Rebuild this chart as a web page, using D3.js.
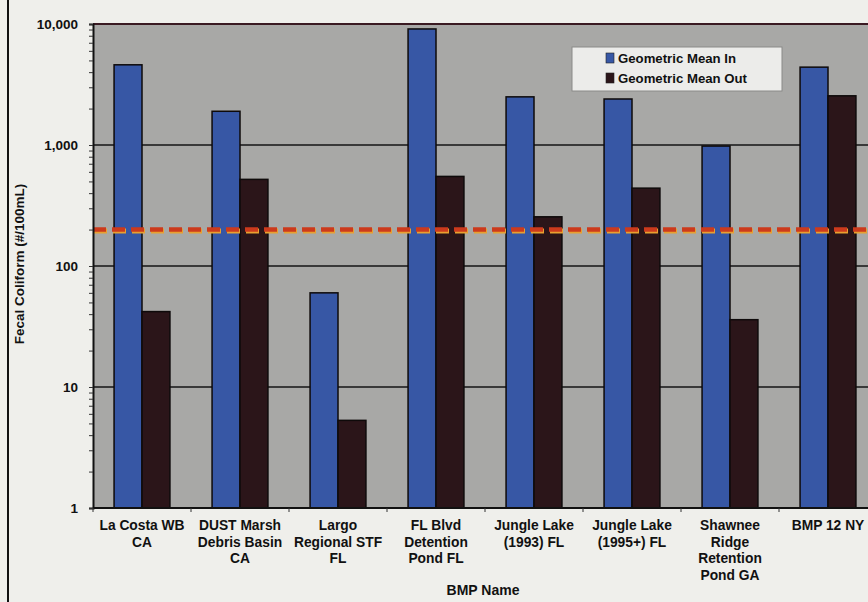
<!DOCTYPE html>
<html>
<head>
<meta charset="utf-8">
<script src="https://cdn.jsdelivr.net/npm/d3@7/dist/d3.min.js"></script>
<style>
  html, body { margin: 0; padding: 0; background: #efefeb; }
  svg { display: block; }
  text { font-family: "Liberation Sans", Arial, sans-serif; font-weight: bold; fill: #111; }
</style>
</head>
<body>
<svg id="chart" width="868" height="602"></svg>
<script>
// BMP sites (multi-line labels) and fecal coliform geometric means (#/100mL)
const categories = [
  ["La Costa WB", "CA"],
  ["DUST Marsh", "Debris Basin", "CA"],
  ["Largo", "Regional STF", "FL"],
  ["FL Blvd", "Detention", "Pond FL"],
  ["Jungle Lake", "(1993) FL"],
  ["Jungle Lake", "(1995+) FL"],
  ["Shawnee", "Ridge", "Retention", "Pond GA"],
  ["BMP 12 NY"]
];
const meanIn  = [4600, 1900, 60, 9100, 2500, 2400, 980, 4400];
const meanOut = [42, 520, 5.3, 550, 255, 440, 36, 2550];
const seriesNames = ["Geometric Mean In", "Geometric Mean Out"];
const standardValue = 200;
const yTicks = [1, 10, 100, 1000, 10000];
const yTickLabels = ["1", "10", "100", "1,000", "10,000"];
const xTitle = "BMP Name";
const yTitle = "Fecal Coliform (#/100mL)";

const colors = { in: "#3757a5", out: "#2b1519" };

const svg = d3.select("#chart");
const margin = { left: 93, top: 24, bottom: 94 };
const plotRight = 877;
const plotBottom = 602 - margin.bottom;

const x = d3.scaleBand()
  .domain(d3.range(categories.length))
  .range([margin.left, plotRight])
  .paddingInner(0.43)
  .paddingOuter(0.215);
const xGroup = d3.scaleBand()
  .domain([0, 1])
  .range([0, x.bandwidth()]);
const y = d3.scaleLog()
  .domain([1, 10000])
  .range([plotBottom, margin.top]);

// page rule on the left edge
svg.append("line")
  .attr("x1", 8).attr("x2", 8).attr("y1", 0).attr("y2", 602)
  .attr("stroke", "#111").attr("stroke-width", 2);

// plot background
svg.append("rect")
  .attr("x", margin.left).attr("y", margin.top)
  .attr("width", plotRight - margin.left).attr("height", plotBottom - margin.top)
  .attr("fill", "#a8a8a6");

// decade gridlines
svg.append("g").selectAll("line")
  .data(yTicks.slice(1, -1))
  .join("line")
  .attr("x1", margin.left).attr("x2", plotRight)
  .attr("y1", d => y(d)).attr("y2", d => y(d))
  .attr("stroke", "#141414").attr("stroke-width", 1.6);

// top border
svg.append("line")
  .attr("x1", margin.left).attr("x2", plotRight)
  .attr("y1", margin.top).attr("y2", margin.top)
  .attr("stroke", "#3a1a22").attr("stroke-width", 2);

// bars
const groups = svg.append("g").selectAll("g")
  .data(categories.map((c, i) => ({ i, vals: [meanIn[i], meanOut[i]] })))
  .join("g")
  .attr("transform", d => `translate(${x(d.i)},0)`);
groups.selectAll("rect")
  .data(d => d.vals.map((v, k) => ({ v, k })))
  .join("rect")
  .attr("x", d => xGroup(d.k))
  .attr("width", xGroup.bandwidth())
  .attr("y", d => y(d.v))
  .attr("height", d => plotBottom - y(d.v))
  .attr("fill", d => d.k === 0 ? colors.in : colors.out)
  .attr("stroke", "#0e0a0a").attr("stroke-width", 1.5);

// standard line (dashed, with a warm shadow)
const yStd = y(standardValue);
svg.append("line")
  .attr("x1", margin.left).attr("x2", 868)
  .attr("y1", yStd + 1.5).attr("y2", yStd + 1.5)
  .attr("stroke", "#e8a030").attr("stroke-width", 5)
  .attr("stroke-dasharray", "13,6").attr("stroke-dashoffset", -1);
svg.append("line")
  .attr("x1", margin.left).attr("x2", 868)
  .attr("y1", yStd).attr("y2", yStd)
  .attr("stroke", "#cc3a1c").attr("stroke-width", 4.5)
  .attr("stroke-dasharray", "13,6");

// y axis
const yAxis = d3.axisLeft(y)
  .tickValues(yTicks.flatMap(d => d < 10000 ? d3.range(1, 10).map(m => m * d) : [d]))
  .tickSize(4)
  .tickFormat("");
const ya = svg.append("g").attr("transform", `translate(${margin.left},0)`).call(yAxis);
ya.select(".domain").attr("stroke", "#111").attr("stroke-width", 2);
ya.selectAll(".tick line").attr("stroke", "#333").attr("stroke-width", 1);

svg.append("g").selectAll("text")
  .data(yTicks)
  .join("text")
  .attr("x", 78)
  .attr("y", d => y(d) + 4.5)
  .attr("text-anchor", "end")
  .attr("font-size", 13.5)
  .text((d, i) => yTickLabels[i]);

// x axis
svg.append("line")
  .attr("x1", margin.left).attr("x2", plotRight)
  .attr("y1", plotBottom).attr("y2", plotBottom)
  .attr("stroke", "#111").attr("stroke-width", 2);
svg.append("g").selectAll("line")
  .data(d3.range(categories.length + 1))
  .join("line")
  .attr("x1", i => margin.left + i * x.step())
  .attr("x2", i => margin.left + i * x.step())
  .attr("y1", plotBottom).attr("y2", plotBottom + 4)
  .attr("stroke", "#333").attr("stroke-width", 1);

const xl = svg.append("g").selectAll("text")
  .data(categories)
  .join("text")
  .attr("x", (d, i) => x(i) + x.bandwidth() / 2)
  .attr("y", 530)
  .attr("text-anchor", "middle")
  .attr("font-size", 13.8);
xl.selectAll("tspan")
  .data(d => d)
  .join("tspan")
  .attr("x", function () { return d3.select(this.parentNode).attr("x"); })
  .attr("dy", (d, k) => k === 0 ? 0 : 16.5)
  .text(d => d);

// axis titles
svg.append("text")
  .attr("x", 483).attr("y", 595)
  .attr("text-anchor", "middle")
  .attr("font-size", 14)
  .text(xTitle);
svg.append("text")
  .attr("transform", "translate(24,264) rotate(-90)")
  .attr("text-anchor", "middle")
  .attr("font-size", 13.5)
  .text(yTitle);

// legend
const lg = svg.append("g").attr("transform", "translate(572,47)");
lg.append("rect")
  .attr("width", 210).attr("height", 44)
  .attr("fill", "#ececea").attr("stroke", "#8a8a88").attr("stroke-width", 1);
const items = lg.selectAll("g")
  .data(seriesNames)
  .join("g")
  .attr("transform", (d, i) => `translate(34,${11 + i * 20})`);
items.append("rect")
  .attr("width", 8).attr("height", 10).attr("y", -5)
  .attr("fill", (d, i) => i === 0 ? colors.in : colors.out)
  .attr("stroke", "#222").attr("stroke-width", 0.6);
items.append("text")
  .attr("x", 12).attr("y", 5)
  .attr("font-size", 13.2)
  .text(d => d);
</script>
</body>
</html>
